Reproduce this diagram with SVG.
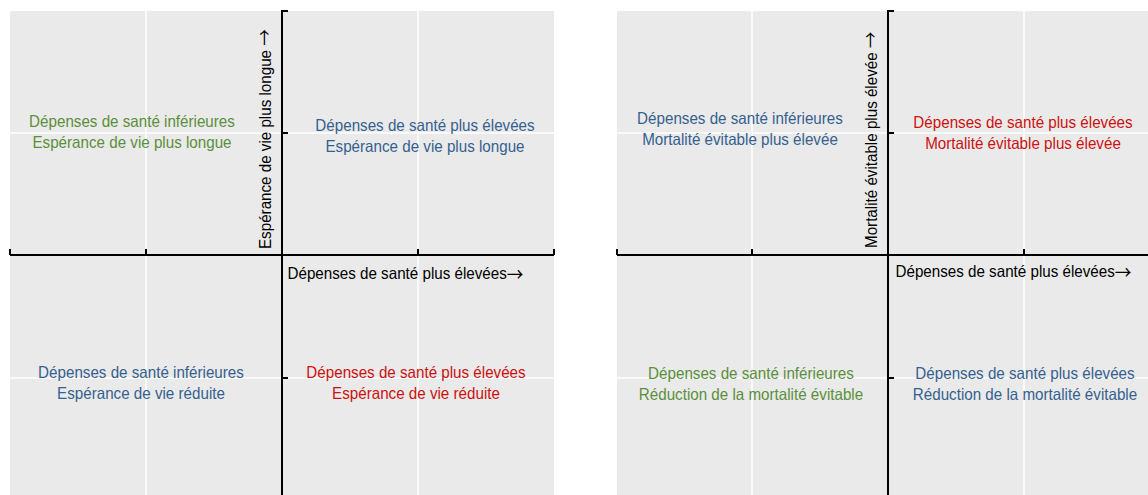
<svg xmlns="http://www.w3.org/2000/svg" width="1148" height="495" viewBox="0 0 1148 495">
<style>
text{font-family:"Liberation Sans",Arial,sans-serif;font-size:16.5px}
.c text{text-anchor:middle}
.g text{fill:#5B8F3C}
.b text{fill:#35618F}
.r text{fill:#CC1111}
.k{fill:#000}
.arr{font-family:"Noto Sans CJK SC","DejaVu Sans",sans-serif;font-size:18px}
.bg{fill:#EAEAEA}
.grid{stroke:#fff;stroke-width:1.5;fill:none}
.ax{stroke:#000;stroke-width:2;fill:none}
</style>
<rect width="1148" height="495" fill="#fff"/>
<g id="panel-left">
<rect class="bg" x="10" y="11" width="544" height="484"/>
<path class="grid" d="M146 11V495M418 11V495M10 133H554M10 378H554"/>
</g>
<g id="panel-right">
<rect class="bg" x="617" y="11" width="531" height="484"/>
<path class="grid" d="M752 11V495M1024 11V495M617 133H1148M617 378H1148"/>
</g>
<g id="connectors">
<path class="ax" d="M288 11H282V495M282 133H288M282 378H288M10 255H554M10 249V255M146 249V255M418 249V255M554 249V255"/>
<path class="ax" d="M894 11H888V495M888 133H894M888 378H894M617 255H1148M617 249V255M752 249V255M1024 249V255"/>
</g>
<g id="left-tl" class="c g" transform="translate(132 127) scale(0.92 1)"><text x="0" y="0">Dépenses de santé inférieures</text><text x="0" y="21.5">Espérance de vie plus longue</text></g>
<g id="left-tr" class="c b" transform="translate(425 131) scale(0.92 1)"><text x="0" y="0">Dépenses de santé plus élevées</text><text x="0" y="21.5">Espérance de vie plus longue</text></g>
<g id="left-bl" class="c b" transform="translate(141 378) scale(0.92 1)"><text x="0" y="0">Dépenses de santé inférieures</text><text x="0" y="21.5">Espérance de vie réduite</text></g>
<g id="left-br" class="c r" transform="translate(416 378) scale(0.92 1)"><text x="0" y="0">Dépenses de santé plus élevées</text><text x="0" y="21.5">Espérance de vie réduite</text></g>
<g id="left-xlabel" transform="translate(287.5 279) scale(0.92 1)"><text class="k" x="0" y="0">Dépenses de santé plus élevées<tspan class="arr" dy="2">→</tspan></text></g>
<g id="left-ylabel" transform="translate(271 249) rotate(-90) scale(0.92 1)"><text class="k" x="0" y="0">Espérance de vie plus longue <tspan class="arr" dy="0">→</tspan></text></g>
<g id="right-tl" class="c b" transform="translate(740 124) scale(0.92 1)"><text x="0" y="0">Dépenses de santé inférieures</text><text x="0" y="21.5">Mortalité évitable plus élevée</text></g>
<g id="right-tr" class="c r" transform="translate(1023 128) scale(0.92 1)"><text x="0" y="0">Dépenses de santé plus élevées</text><text x="0" y="21.5">Mortalité évitable plus élevée</text></g>
<g id="right-bl" class="c g" transform="translate(751 379) scale(0.92 1)"><text x="0" y="0">Dépenses de santé inférieures</text><text x="0" y="21.5">Réduction de la mortalité évitable</text></g>
<g id="right-br" class="c b" transform="translate(1025 379) scale(0.92 1)"><text x="0" y="0">Dépenses de santé plus élevées</text><text x="0" y="21.5">Réduction de la mortalité évitable</text></g>
<g id="right-xlabel" transform="translate(895.5 277) scale(0.92 1)"><text class="k" x="0" y="0">Dépenses de santé plus élevées<tspan class="arr" dy="2">→</tspan></text></g>
<g id="right-ylabel" transform="translate(877 248) rotate(-90) scale(0.92 1)"><text class="k" x="0" y="0">Mortalité évitable plus élevée <tspan class="arr" dy="0">→</tspan></text></g>
</svg>
